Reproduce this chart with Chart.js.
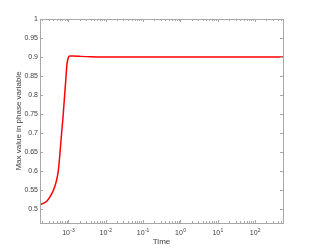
<!DOCTYPE html>
<html>
<head>
<meta charset="utf-8">
<script src="https://cdn.jsdelivr.net/npm/chart.js@4/dist/chart.umd.min.js"></script>
<style>
  html, body { margin: 0; padding: 0; background: #fff; }
  #wrap { width: 313px; height: 251px; }
</style>
</head>
<body>
<div id="wrap"><canvas id="phaseChart" width="313" height="251"></canvas></div>
<script>
// Max value in phase variable vs time (log time axis)

const timeValues = [1.75e-4, 2.2e-4, 2.7e-4, 3.2e-4, 3.8e-4, 4.4e-4, 4.9e-4, 5.3e-4, 5.6e-4, 5.9e-4,
                    6.5e-4, 7.2e-4, 7.8e-4, 8.5e-4, 9.2e-4, 1.0e-3, 1.1e-3, 1.4e-3, 2e-3, 4e-3,
                    1e-2, 1e-1, 1, 10, 100, 560];
const maxPhase   = [0.512, 0.516, 0.522, 0.532, 0.545, 0.561, 0.578, 0.595, 0.615, 0.640,
                    0.690, 0.740, 0.786, 0.835, 0.880, 0.898, 0.903, 0.903, 0.902, 0.9005,
                    0.900, 0.900, 0.900, 0.900, 0.900, 0.900];

const xMajorTicks = [1e-3, 1e-2, 1e-1, 1, 10, 100];
const xTickExponents = ['-3', '-2', '-1', '0', '1', '2'];
const yTicks = [0.5, 0.55, 0.6, 0.65, 0.7, 0.75, 0.8, 0.85, 0.9, 0.95, 1];

const X_MIN = 1.75e-4, X_MAX = 560;
const Y_MIN = 0.464, Y_MAX = 1;
const axisColor = '#a8a8a8';
const textColor = '#404040';

// minor ticks 2..9 for each decade inside the range
const xAllTicks = [];
for (let e = -4; e <= 2; e++) {
    for (let m = 1; m <= 9; m++) {
        const v = m * Math.pow(10, e);
        if (v >= X_MIN && v <= X_MAX) xAllTicks.push(v);
    }
}

const boxTicks = {
    id: 'boxTicks',
    afterDraw(chart) {
        const { ctx, chartArea: a, scales } = chart;
        ctx.save();
        ctx.strokeStyle = axisColor;
        ctx.lineWidth = 1;
        ctx.strokeRect(Math.round(a.left) + 0.5, Math.round(a.top) + 0.5,
                       Math.round(a.right - a.left), Math.round(a.bottom - a.top));
        ctx.beginPath();
        scales.x.ticks.forEach(t => {
            const px = Math.round(scales.x.getPixelForValue(t.value)) + 0.5;
            const len = xMajorTicks.includes(t.value) ? 3 : 2;
            ctx.moveTo(px, a.bottom); ctx.lineTo(px, a.bottom - len);
            ctx.moveTo(px, a.top); ctx.lineTo(px, a.top + len);
        });
        scales.y.ticks.forEach(t => {
            const py = Math.round(scales.y.getPixelForValue(t.value)) + 0.5;
            ctx.moveTo(a.left, py); ctx.lineTo(a.left + 3, py);
            ctx.moveTo(a.right, py); ctx.lineTo(a.right - 3, py);
        });
        ctx.stroke();

        // power-of-ten labels with raised exponent
        ctx.fillStyle = textColor;
        ctx.textBaseline = 'alphabetic';
        ctx.textAlign = 'left';
        const baseFont = '7px "Liberation Sans"';
        const expFont = '5px "Liberation Sans"';
        xMajorTicks.forEach((v, i) => {
            const px = scales.x.getPixelForValue(v);
            ctx.font = baseFont;
            const wBase = ctx.measureText('10').width;
            ctx.font = expFont;
            const wExp = ctx.measureText(xTickExponents[i]).width;
            const x0 = px - (wBase + wExp) / 2;
            const yBase = a.bottom + 12;
            ctx.font = baseFont;
            ctx.fillText('10', x0, yBase);
            ctx.font = expFont;
            ctx.fillText(xTickExponents[i], x0 + wBase + 0.3, yBase - 3.5);
        });
        ctx.restore();
    }
};

new Chart(document.getElementById('phaseChart'), {
    type: 'line',
    data: {
        datasets: [{
            data: timeValues.map((t, i) => ({ x: t, y: maxPhase[i] })),
            borderColor: '#ff0000',
            borderWidth: 1.5,
            pointRadius: 0,
            cubicInterpolationMode: 'monotone',
            fill: false,
        }],
    },
    options: {
        responsive: false,
        animation: false,
        layout: { padding: { top: 19, right: 30, left: 14, bottom: 4 } },
        plugins: { legend: { display: false }, tooltip: { enabled: false } },
        scales: {
            x: {
                type: 'logarithmic',
                min: X_MIN,
                max: X_MAX,
                afterBuildTicks: s => { s.ticks = xAllTicks.map(v => ({ value: v })); },
                afterFit: s => { s.height = 24; },
                grid: { display: false, drawTicks: false },
                border: { display: false },
                ticks: {
                    autoSkip: false,
                    maxRotation: 0,
                    padding: 4,
                    font: { family: 'Liberation Sans', size: 7 },
                    callback: () => '',
                },
                title: {
                    display: true,
                    text: 'Time',
                    color: textColor,
                    font: { family: 'Liberation Sans', size: 8 },
                    padding: { top: 0, bottom: 0 },
                },
            },
            y: {
                min: Y_MIN,
                max: Y_MAX,
                afterBuildTicks: s => { s.ticks = yTicks.map(v => ({ value: v })); },
                afterFit: s => { s.width = 26; },
                grid: { display: false, drawTicks: false },
                border: { display: false },
                ticks: {
                    padding: 2,
                    color: textColor,
                    font: { family: 'Liberation Sans', size: 7 },
                    callback: v => String(+v.toFixed(2)),
                },
                title: {
                    display: true,
                    text: 'Max value in phase variable',
                    color: textColor,
                    font: { family: 'Liberation Sans', size: 8 },
                    padding: { top: 0, bottom: 0 },
                },
            },
        },
    },
    plugins: [boxTicks],
});
</script>
</body>
</html>
